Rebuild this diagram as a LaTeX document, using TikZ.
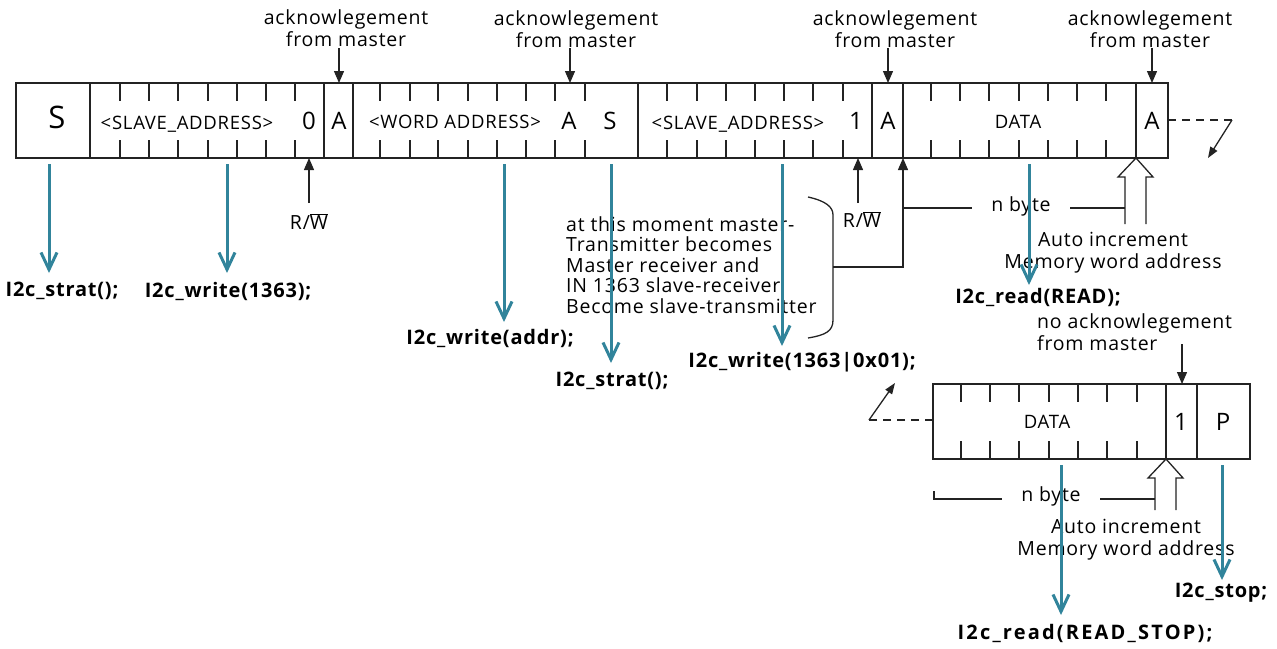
\documentclass[tikz,border=0pt]{standalone}
\usepackage{fontspec}
\setmainfont{Open Sans}[LetterSpace=4]
\usetikzlibrary{arrows.meta}
\definecolor{tealc}{RGB}{49,132,155}
\definecolor{linec}{RGB}{35,35,35}
\tikzset{
  frm/.style={draw=linec, line width=1.3pt},
  bigtxt/.style={inner sep=0pt, font=\fontsize{24}{28}\selectfont},
  hugetxt/.style={inner sep=0pt, font=\fontsize{31}{34}\selectfont},
  celltxt/.style={inner sep=0pt, font=\fontsize{18.5}{22}\selectfont},
  note/.style={inner sep=0pt, font=\fontsize{19.5}{22}\selectfont, align=center},
  para/.style={inner sep=0pt, font=\fontsize{19.5}{20.5}\selectfont, align=left},
  lbl/.style={inner sep=0pt, font=\fontsize{20}{24}\selectfont\bfseries},
  blkarr/.style={draw=linec, line width=1.3pt, -{Triangle[length=12pt,width=10pt]}},
  tarr/.style={draw=tealc, line width=3pt, -{Straight Barb[length=17pt,width=16pt]}},
  dsh/.style={draw=linec, line width=1.3pt, dash pattern=on 8pt off 6pt},
}
\begin{document}
\begin{tikzpicture}[x=1pt,y=-1pt]
\useasboundingbox (0,0) rectangle (1277,648);

% ---------- top frame ----------
\draw[frm] (16,83) rectangle (1168,158);
\foreach \x in {90,324,353,638,872,903,1136} \draw[frm] (\x,83)--(\x,158);
\foreach \x in {120,149,178,208,237,266,295,380,410,438,468,497,526,555,585,667,697,726,755,784,813,843,931,960,989,1019,1048,1077,1106}
  {\draw[frm] (\x,83)--(\x,101); \draw[frm] (\x,158)--(\x,140);}

\node[hugetxt] (cS) at (57,117.5) {S};
\node[celltxt] (cSA) at (187,124) {<SLAVE\_ADDRESS>};
\node[bigtxt] (c0) at (309,121) {0};
\node[bigtxt] (cA1) at (339,121) {A};
\node[celltxt] (cWA) at (455,122) {<WORD ADDRESS>};
\node[bigtxt] (cA2) at (569,121) {A};
\node[bigtxt] (cS2) at (610,121) {S};
\node[celltxt] (cSA2) at (738,124) {<SLAVE\_ADDRESS>};
\node[bigtxt] (c1) at (856,121) {1};
\node[bigtxt] (cA3) at (888,121) {A};
\node[celltxt] (cD) at (1018,122) {DATA};
\node[bigtxt] (cA4) at (1152,121) {A};

% ---------- acknowledgement labels ----------
\node[note] (ack1) at (346,28) {acknowlegement\\from master};
\node[note] (ack2) at (576,29) {acknowlegement\\from master};
\node[note] (ack3) at (895,29) {acknowlegement\\from master};
\node[note] (ack4) at (1150,29) {acknowlegement\\from master};
\coordinate (a1s) at (339,48);  \coordinate (a1e) at (339,83);
\coordinate (a2s) at (570,48);  \coordinate (a2e) at (570,83);
\coordinate (a3s) at (888,48);  \coordinate (a3e) at (888,83);
\coordinate (a4s) at (1152,48); \coordinate (a4e) at (1152,83);
\draw[blkarr] (a1s) -- (a1e);
\draw[blkarr] (a2s) -- (a2e);
\draw[blkarr] (a3s) -- (a3e);
\draw[blkarr] (a4s) -- (a4e);

% ---------- R/W ----------
\node[note] (rw1) at (309,222) {R/$\overline{\hbox{W}}$};
\node[note] (rw2) at (862,220) {R/$\overline{\hbox{W}}$};
\coordinate (rw1s) at (309,203); \coordinate (rw1e) at (309,158);
\coordinate (rw2s) at (858,203); \coordinate (rw2e) at (858,158);
\draw[blkarr] (rw1s) -- (rw1e);
\draw[blkarr] (rw2s) -- (rw2e);

% ---------- continuation (top right) ----------
\coordinate (d1s) at (1168,120); \coordinate (d1m) at (1232,120); \coordinate (d1e) at (1208,158);
\draw[dsh] (d1s) -- (d1m);
\draw[draw=linec, line width=1.3pt, -{Triangle[length=11pt,width=8pt]}] (d1m) -- (d1e);

% ---------- brace and paragraph ----------
\node[para, anchor=west] (para) at (566,265) {at this moment master-\\Transmitter becomes\\Master receiver and\\IN 1363 slave-receiver\\Become slave-transmitter};
\coordinate (br1) at (808,197); \coordinate (br2) at (833,215);
\coordinate (br3) at (833,320); \coordinate (br4) at (808,338);
\draw[frm] (br1) .. controls (826,201) and (833,207) .. (br2) -- (br3) .. controls (833,331) and (826,335) .. (br4);
\coordinate (bm) at (833,267); \coordinate (bc) at (903,267); \coordinate (be) at (903,158);
\draw[blkarr] (bm) -- (bc) -- (be);

% ---------- n byte (top) ----------
\node[note] (nb1) at (1021,206) {n byte};
\coordinate (n1a) at (903,208); \coordinate (n1b) at (972,208);
\coordinate (n1c) at (1070,208); \coordinate (n1d) at (1125,208);
\draw[frm] (n1a) -- (n1b);
\draw[frm] (n1c) -- (n1d);
\coordinate (h1a) at (1125,224); \coordinate (h1t) at (1136,158); \coordinate (h1b) at (1146,224);
\draw[frm, line join=miter] (h1a) -- (1125,177) -- (1118,177) -- (h1t) -- (1153,177) -- (1146,177) -- (h1b);
\node[note] (ai1) at (1113,253) {Auto increment\\Memory word address};

% ---------- second frame ----------
\draw[frm] (933,384) rectangle (1250,459);
\foreach \x in {1166,1197} \draw[frm] (\x,384)--(\x,459);
\foreach \x in {961,990,1019,1049,1078,1107,1137}
  {\draw[frm] (\x,384)--(\x,402); \draw[frm] (\x,459)--(\x,441);}
\node[celltxt] (cD2) at (1047,422) {DATA};
\node[bigtxt] (c12) at (1181,422) {1};
\node[bigtxt] (cP) at (1223,422) {P};

\node[note, align=left, anchor=west] (nack) at (1037,332) {no acknowlegement\\from master};
\coordinate (nas) at (1182,344); \coordinate (nae) at (1182,384);
\draw[blkarr] (nas) -- (nae);

\coordinate (d2s) at (933,420); \coordinate (d2m) at (869,420); \coordinate (d2e) at (895,383);
\draw[dsh] (d2s) -- (d2m);
\draw[draw=linec, line width=1.3pt, -{Triangle[length=11pt,width=8pt]}] (d2m) -- (d2e);

% ---------- n byte (bottom) ----------
\node[note] (nb2) at (1051,496) {n byte};
\coordinate (n2a) at (934,491); \coordinate (n2b) at (934,499); \coordinate (n2c) at (1002,499);
\coordinate (n2d) at (1100,499); \coordinate (n2e) at (1155,499);
\draw[frm] (n2a) -- (n2b) -- (n2c);
\draw[frm] (n2d) -- (n2e);
\coordinate (h2a) at (1155,510); \coordinate (h2t) at (1166,459); \coordinate (h2b) at (1176,510);
\draw[frm, line join=miter] (h2a) -- (1155,478) -- (1148,478) -- (h2t) -- (1183,478) -- (1176,478) -- (h2b);
\node[note] (ai2) at (1126,540) {Auto increment\\Memory word address};

% ---------- function labels ----------
\node[lbl] (L1) at (62,291) {I2c\_strat();};
\node[lbl] (L2) at (228,291) {I2c\_write(1363);};
\node[lbl] (L3) at (490,338) {I2c\_write(addr);};
\node[lbl] (L4) at (612,381) {I2c\_strat();};
\node[lbl] (L5) at (802,362) {I2c\_write(1363|0x01);};
\node[lbl] (L6) at (1038,297) {I2c\_read(READ);};
\node[lbl, font=\fontsize{20}{24}\selectfont\bfseries\addfontfeature{LetterSpace=11}] (L7) at (1085,633) {I2c\_read(READ\_STOP);};
\node[lbl] (L8) at (1221,593) {I2c\_stop;};

% ---------- teal arrows ----------
\coordinate (t1s) at (49,164);   \coordinate (t1e) at (49,273);
\coordinate (t2s) at (227,164);  \coordinate (t2e) at (227,273);
\coordinate (t3s) at (504,164);  \coordinate (t3e) at (504,322);
\coordinate (t4s) at (611,164);  \coordinate (t4e) at (611,363);
\coordinate (t5s) at (782,164);  \coordinate (t5e) at (782,346);
\coordinate (t6s) at (1029,164); \coordinate (t6e) at (1029,285);
\coordinate (t7s) at (1061,465); \coordinate (t7e) at (1061,615);
\coordinate (t8s) at (1222,465); \coordinate (t8e) at (1222,580);
\foreach \i in {1,...,8} \draw[tarr] (t\i s) -- (t\i e);
\end{tikzpicture}
\end{document}
